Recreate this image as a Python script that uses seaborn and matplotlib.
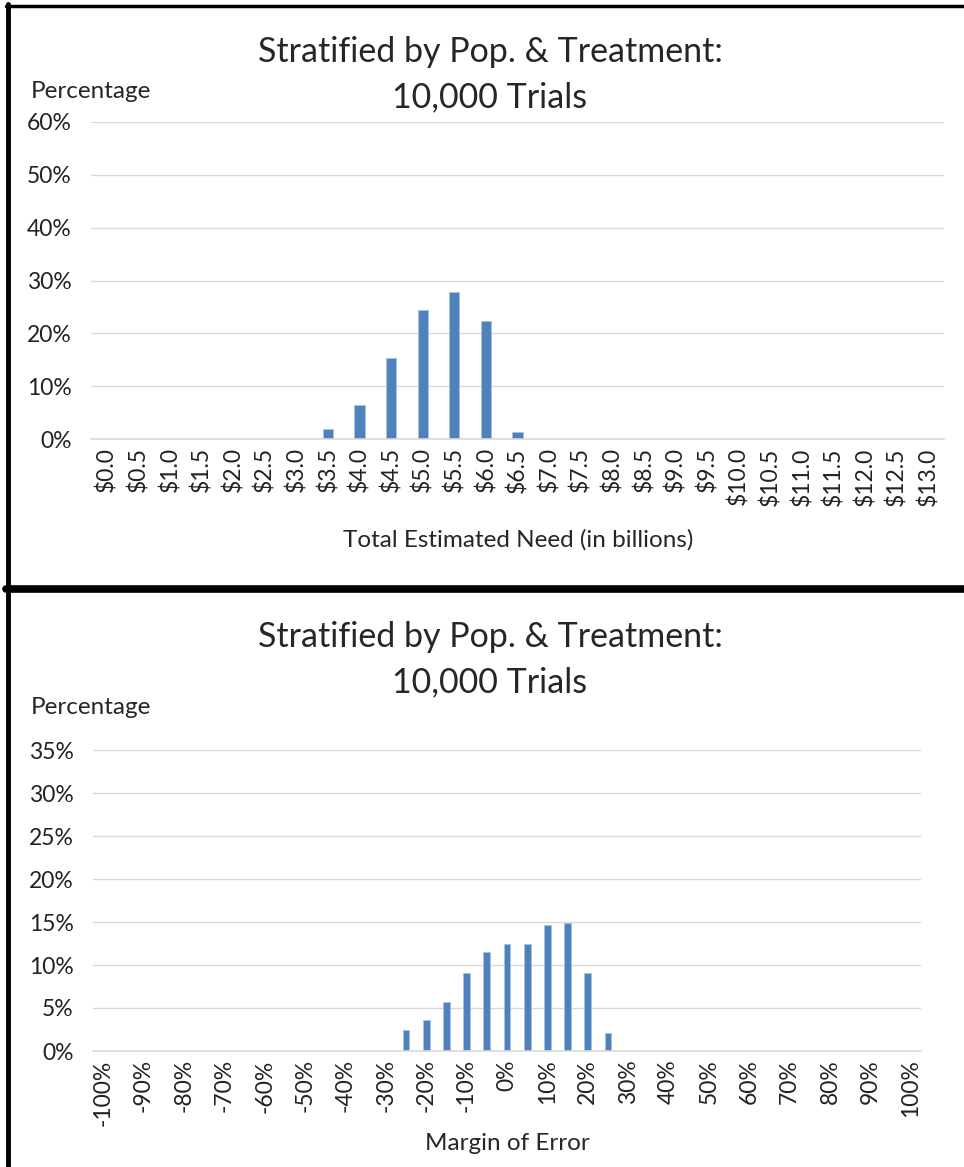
import numpy as np
import pandas as pd
import matplotlib.pyplot as plt
import seaborn as sns
from matplotlib.lines import Line2D

# ---- data ----
need_bins = [f"${v / 2:.1f}" for v in range(0, 27)]   # $0.0 .. $13.0
need_pct = [0, 0, 0, 0, 0, 0, 0, 1.8, 6.4, 15.4, 24.4, 27.8, 22.4, 1.3,
            0, 0, 0, 0, 0, 0, 0, 0, 0, 0, 0, 0, 0]

moe_bins = [f"{v}%" for v in range(-100, 101, 5)]      # -100% .. 100%
moe_pct = [0] * 15 + [2.4, 3.6, 5.7, 9.1, 11.5, 12.4, 12.4, 14.6, 14.9, 9.1, 2.1] + [0] * 15

title_lines = ["Stratified by Pop. & Treatment:", "10,000 Trials"]

BAR = "#4F81BD"
GRID = "#D9D9D9"
FONT = "Lato"
TICK_FS = 16.5
LABEL_FS = 17.5
TITLE_FS = 24.5

sns.set_style("white")
plt.rcParams['font.family'] = [FONT, 'DejaVu Sans']

W, H = 964, 1167
fig = plt.figure(figsize=(W / 100, H / 100), dpi=100)


def fx(px):
    return px / W


def fy(py):
    return 1 - py / H


def style_axis(ax, ymax, ystep):
    ax.set_ylim(0, ymax)
    ax.set_yticks(np.arange(0, ymax + 0.01, ystep))
    ax.set_yticklabels([f"{int(t)}%" for t in np.arange(0, ymax + 0.01, ystep)])
    ax.grid(axis='y', color=GRID, linewidth=1)
    ax.set_axisbelow(True)
    for s in ['top', 'right', 'left']:
        ax.spines[s].set_visible(False)
    ax.spines['bottom'].set_color(GRID)
    ax.spines['bottom'].set_linewidth(1.2)
    ax.tick_params(axis='y', length=0, pad=14, labelsize=TICK_FS, labelcolor='#222222')
    ax.tick_params(axis='x', length=0, pad=6, labelsize=TICK_FS, labelcolor='#222222', rotation=90)
    ax.set_xlabel('')
    ax.set_ylabel('')


# ---- top chart ----
ax1 = fig.add_axes([fx(91), fy(439), fx(944 - 91), (439 - 122) / H])
df1 = pd.DataFrame({'bin': need_bins, 'pct': need_pct})
sns.barplot(data=df1, x='bin', y='pct', order=need_bins, color=BAR, saturation=1,
            width=0.32, edgecolor='#A9C1E0', linewidth=0.6, ax=ax1)
style_axis(ax1, 60, 10)
ax1.set_xlim(-0.5, len(need_bins) - 0.5)

fig.text(fx(490), fy(52), title_lines[0], ha='center', va='center', fontsize=TITLE_FS)
fig.text(fx(490), fy(97), title_lines[1], ha='center', va='center', fontsize=TITLE_FS)
fig.text(fx(31), fy(91), "Percentage", ha='left', va='center', fontsize=LABEL_FS)
fig.text(fx(518), fy(540), "Total Estimated Need (in billions)", ha='center', va='center', fontsize=LABEL_FS)

# ---- bottom chart ----
ax2 = fig.add_axes([fx(93), fy(1051), fx(921 - 93), (1051 - 750) / H])
df2 = pd.DataFrame({'bin': moe_bins, 'pct': moe_pct})
sns.barplot(data=df2, x='bin', y='pct', order=moe_bins, color=BAR, saturation=1,
            width=0.33, edgecolor='#A9C1E0', linewidth=0.6, ax=ax2)
style_axis(ax2, 35, 5)
ax2.set_xlim(-0.5, len(moe_bins) - 0.5)
ax2.set_xticks(range(0, len(moe_bins), 2))
ax2.set_xticklabels(moe_bins[::2], rotation=90)

fig.text(fx(490), fy(637), title_lines[0], ha='center', va='center', fontsize=TITLE_FS)
fig.text(fx(490), fy(682), title_lines[1], ha='center', va='center', fontsize=TITLE_FS)
fig.text(fx(31), fy(708), "Percentage", ha='left', va='center', fontsize=LABEL_FS)
fig.text(fx(507), fy(1143), "Margin of Error", ha='center', va='center', fontsize=LABEL_FS)

# ---- panel frames ----
fig.add_artist(Line2D([fx(8), fx(8)], [fy(4), fy(1167)], color='black', linewidth=3.5))
fig.add_artist(Line2D([fx(6), 1], [fy(5.5), fy(5.5)], color='black', linewidth=2.5))
fig.add_artist(Line2D([fx(6), 1], [fy(588.5), fy(588.5)], color='black', linewidth=5.5))

fig.savefig("out.png", dpi=100, facecolor='white')
